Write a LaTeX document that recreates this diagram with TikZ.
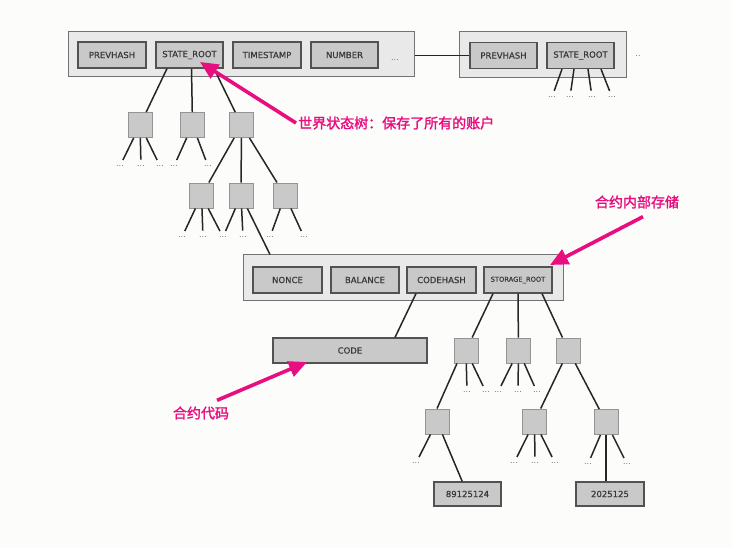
\documentclass[tikz,border=0pt]{standalone}
\usepackage{fontspec}
\newfontfamily\lab[FakeBold=0.5]{DejaVu Sans}
\newfontfamily\dotfont{DejaVu Sans}
\newfontfamily\cjk[FakeBold=1.8]{Noto Sans CJK SC}
\usetikzlibrary{arrows.meta,calc}
\definecolor{annot}{RGB}{232,14,128}
\definecolor{bgc}{RGB}{252,252,250}
\definecolor{outerfill}{RGB}{233,233,233}
\definecolor{fieldfill}{RGB}{201,201,201}
\tikzset{
  outerbox/.style={draw=black!55, fill=outerfill, line width=1pt, minimum height=45pt, inner sep=0pt},
  field/.style={draw=black!68, fill=fieldfill, line width=1.2pt, minimum height=26pt, inner sep=0pt,
    font=\lab\fontsize{8.5}{10}\selectfont, text=black!78},
  smallfield/.style={field, font=\lab\fontsize{6.7}{8}\selectfont},
  sq/.style={draw=black!42, fill=fieldfill, line width=0.9pt, minimum width=24pt, minimum height=25pt, inner sep=0pt},
  dotn/.style={font=\dotfont\fontsize{8}{8}\selectfont, text=black!55, inner sep=0.5pt, text height=1.5pt, text depth=0pt},
  edge/.style={line width=1.5pt, draw=black!85},
  todot/.style={edge, shorten >=5pt},
  note/.style={font=\cjk\fontsize{14}{14}\selectfont, text=annot, inner sep=0pt},
  annarrow/.style={line width=3.6pt, draw=annot, -{Triangle[length=18pt,width=16pt]}}
}
\begin{document}
\begin{tikzpicture}[x=1pt,y=-1pt]
\useasboundingbox (0,0) rectangle (732,548);
\fill[bgc] (0,0) rectangle (732,548);

% ---------- block 1 ----------
\node[outerbox, minimum width=346pt] (blk1) at (241,54.5) {};
\node[field, minimum width=68pt] (ph1) at (112,55) {PREVHASH};
\node[field, minimum width=67pt] (sr1) at (189.5,55) {STATE\_ROOT};
\node[field, minimum width=68pt] (ts1) at (267,55) {TIMESTAMP};
\node[field, minimum width=67pt] (nb1) at (344.5,55) {NUMBER};
\node[dotn] (e1) at (395,60) {...};

% ---------- block 2 ----------
\node[outerbox, minimum width=167pt, minimum height=46pt] (blk2) at (542.5,55) {};
\node[field, minimum width=67pt] (ph2) at (503.5,55.5) {PREVHASH};
\node[field, minimum width=67pt] (sr2) at (580.5,55.5) {STATE\_ROOT};
\node[dotn] (e2) at (638,56) {..};
\draw[edge] (ph2.west -| blk1.east) -- (ph2.west);

\node[dotn] (f1) at (552,97) {...};
\node[dotn] (f2) at (570,97) {...};
\node[dotn] (f3) at (592,97) {...};
\node[dotn] (f4) at (612,97) {...};
\draw[todot] ([xshift=-18.5pt]sr2.south) -- (f1);
\draw[todot] ([xshift=-6.5pt]sr2.south) -- (f2);
\draw[todot] ([xshift=7.5pt]sr2.south) -- (f3);
\draw[todot] ([xshift=20.5pt]sr2.south) -- (f4);

% ---------- world state tree ----------
\node[sq] (q1) at (140,125) {};
\node[sq] (q2) at (192.5,125) {};
\node[sq] (q3) at (241.5,125) {};
\draw[edge] ([xshift=-22.5pt]sr1.south) -- (q1);
\draw[edge] ([xshift=2pt]sr1.south) -- (q2);
\draw[edge] ([xshift=24.5pt]sr1.south) -- (q3);

\node[dotn] (d1) at (120,166) {...};
\node[dotn] (d2) at (141,166) {...};
\node[dotn] (d3) at (160,166) {...};
\node[dotn] (d4) at (174,166) {...};
\node[dotn] (d5) at (208,166) {...};
\draw[todot] (q1) -- (d1);
\draw[todot] (q1) -- (d2);
\draw[todot] (q1) -- (d3);
\draw[todot] (q2) -- (d4);
\draw[todot] (q2) -- (d5);

\node[sq] (qa) at (201.5,195.5) {};
\node[sq] (qb) at (241,195.5) {};
\node[sq] (qc) at (285,195.5) {};
\draw[edge] (q3) -- (qa);
\draw[edge] (q3) -- (qb);
\draw[edge] (q3) -- (qc);

\node[dotn] (g1) at (182,237) {...};
\node[dotn] (g2) at (203,237) {...};
\node[dotn] (g3) at (223,237) {...};
\node[dotn] (g4) at (243,237) {...};
\node[dotn] (g5) at (270,237) {...};
\node[dotn] (g6) at (304,237) {...};
\draw[todot] (qa) -- (g1);
\draw[todot] (qa) -- (g2);
\draw[todot] (qa) -- (g3);
\draw[todot] (qb) -- (g3);
\draw[todot] (qb) -- (g4);
\draw[todot] (qc) -- (g5);
\draw[todot] (qc) -- (g6);

% ---------- account ----------
\node[outerbox, minimum width=320pt, minimum height=46pt] (acct) at (403,278) {};
\node[field, minimum width=69pt] (nonce) at (287.5,280) {NONCE};
\node[field, minimum width=68pt] (bal) at (365,280) {BALANCE};
\node[field, minimum width=69pt] (ch) at (441.5,280) {CODEHASH};
\node[smallfield, minimum width=68pt] (stor) at (518,280) {STORAGE\_ROOT};
\draw[edge] (qb) -- ([xshift=-133pt]acct.north);

\node[field, minimum width=154pt, minimum height=25pt] (code) at (350,350.5) {CODE};
\draw[edge] ([xshift=-25.5pt]ch.south) -- ([xshift=45pt]code.north);

% ---------- storage tree ----------
\node[sq] (s1) at (466,350.5) {};
\node[sq] (s2) at (518.5,350.5) {};
\node[sq] (s3) at (568.5,350.5) {};
\draw[edge] ([xshift=-25pt]stor.south) -- (s1);
\draw[edge] (stor.south) -- (s2);
\draw[edge] ([xshift=24pt]stor.south) -- (s3);

\node[dotn] (h1) at (467,392) {...};
\node[dotn] (h2) at (486,392) {...};
\node[dotn] (h3) at (498,392) {...};
\node[dotn] (h4) at (518,392) {...};
\node[dotn] (h5) at (537,392) {...};
\draw[todot] (s1) -- (h1);
\draw[todot] (s1) -- (h2);
\draw[todot] (s2) -- (h3);
\draw[todot] (s2) -- (h4);
\draw[todot] (s2) -- (h5);

\node[sq] (t1) at (437,421.5) {};
\node[sq] (t2) at (534.5,421.5) {};
\node[sq] (t3) at (606,422) {};
\draw[edge] ([xshift=-9pt]s1.south) -- (t1.north);
\draw[edge] (s3) -- (t2);
\draw[edge] (s3) -- (t3);

\node[dotn] (k1) at (416,463) {...};
\node[dotn] (k2) at (514,463) {...};
\node[dotn] (k3) at (535,463) {...};
\node[dotn] (k4) at (555,463) {...};
\node[dotn] (k5) at (588,464) {...};
\node[dotn] (k6) at (627,464) {...};
\draw[todot] (t1) -- (k1);
\draw[todot] (t2) -- (k2);
\draw[todot] (t2) -- (k3);
\draw[todot] (t2) -- (k4);
\draw[todot] (t3) -- (k5);
\draw[todot] (t3) -- (k6);

\node[field, minimum width=67pt, minimum height=24pt] (v1) at (467.5,494) {89125124};
\node[field, minimum width=68pt, minimum height=24pt] (v2) at (610,494) {2025125};
\draw[edge] (t1) -- (v1);
\draw[edge] (t3) -- (t3 |- v2.north);

% ---------- annotations ----------
\node[note, anchor=west] (n1) at (298,123) {世界状态树：保存了所有的账户};
\coordinate (tip1) at (200,62);
\draw[annarrow] ([xshift=-2pt]n1.west) -- (tip1);

\node[note] (n2) at (637,202) {合约内部存储};
\coordinate (tip2) at (550,265);
\draw[annarrow] ([xshift=6pt,yshift=-8pt]n2.south) -- (tip2);

\node[note] (n3) at (201,413) {合约代码};
\coordinate (tip3) at (307,362);
\draw[annarrow] ([xshift=16pt,yshift=6pt]n3.north) -- (tip3);
\end{tikzpicture}
\end{document}
